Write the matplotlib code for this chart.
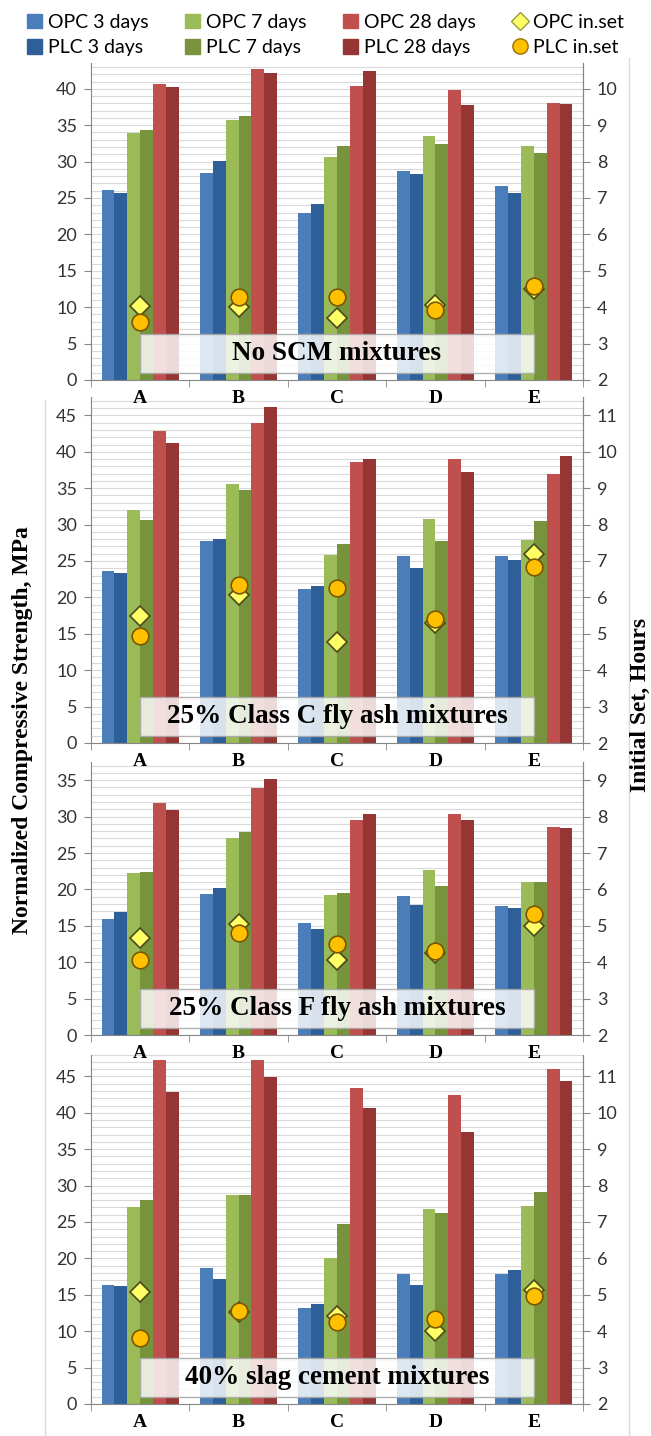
import numpy as np
import matplotlib
matplotlib.use("Agg")
import matplotlib.pyplot as plt
from matplotlib.patches import Rectangle, Patch
from matplotlib.lines import Line2D

W, H = 651, 1436
PX_PER_MPA = 7.28
BAR_W = 0.131

categories = ["A", "B", "C", "D", "E"]
series_names = ["OPC 3 days", "PLC 3 days", "OPC 7 days",
                "PLC 7 days", "OPC 28 days", "PLC 28 days"]
series_colors = ["#4a7ebb", "#2f5f98", "#9bbb59",
                 "#77933c", "#c0504d", "#963634"]

# compressive strength, MPa: one row per series, columns A..E
no_scm = [
    [26.1, 28.5, 22.9, 28.7, 26.7],
    [25.7, 30.1, 24.2, 28.3, 25.7],
    [33.9, 35.7, 30.7, 33.5, 32.1],
    [34.3, 36.2, 32.2, 32.4, 31.2],
    [40.7, 42.7, 40.4, 39.8, 38.0],
    [40.2, 42.2, 42.4, 37.8, 37.9],
]
no_scm_set_opc = [4.02, 4.00, 3.71, 4.06, 4.51]
no_scm_set_plc = [3.60, 4.29, 4.28, 3.92, 4.58]

class_c = [
    [23.6, 27.8, 21.2, 25.7, 25.7],
    [23.3, 28.0, 21.5, 24.0, 25.2],
    [32.0, 35.6, 25.8, 30.8, 27.9],
    [30.7, 34.7, 27.3, 27.8, 30.5],
    [42.9, 44.0, 38.6, 39.0, 37.0],
    [41.2, 46.2, 39.0, 37.2, 39.4],
]
class_c_set_opc = [5.50, 6.06, 4.77, 5.30, 7.19]
class_c_set_plc = [4.93, 6.34, 6.27, 5.41, 6.83]

class_f = [
    [15.9, 19.3, 15.4, 19.1, 17.7],
    [16.9, 20.2, 14.5, 17.8, 17.5],
    [22.3, 27.0, 19.2, 22.7, 21.0],
    [22.4, 27.9, 19.5, 20.4, 21.0],
    [31.9, 33.9, 29.5, 30.3, 28.6],
    [30.9, 35.2, 30.4, 29.6, 28.5],
]
class_f_set_opc = [4.67, 5.05, 4.06, 4.24, 5.00]
class_f_set_plc = [4.06, 4.81, 4.49, 4.31, 5.32]

slag = [
    [16.3, 18.7, 13.2, 17.9, 17.9],
    [16.2, 17.2, 13.8, 16.4, 18.4],
    [27.1, 28.7, 20.1, 26.8, 27.2],
    [28.0, 28.7, 24.7, 26.2, 29.1],
    [47.2, 47.2, 43.4, 42.4, 46.0],
    [42.8, 44.9, 40.6, 37.3, 44.4],
]
slag_set_opc = [5.09, 4.53, 4.43, 4.00, 5.12]
slag_set_plc = [3.82, 4.55, 4.24, 4.33, 4.98]

# (title, strengths, OPC set, PLC set, y max, pixel row of zero line)
panels = [
    ("No SCM mixtures", no_scm, no_scm_set_opc, no_scm_set_plc, 43.5, 380),
    ("25% Class C fly ash mixtures", class_c, class_c_set_opc, class_c_set_plc, 47.5, 743),
    ("25% Class F fly ash mixtures", class_f, class_f_set_opc, class_f_set_plc, 37.5, 1035),
    ("40% slag cement mixtures", slag, slag_set_opc, slag_set_plc, 48, 1404),
]

SANS = ["Lato", "DejaVu Sans"]
SERIF = ["Liberation Serif", "DejaVu Serif"]
AXIS_GRAY = "#868686"
TICK_TXT = "#333333"

fig = plt.figure(figsize=(W / 100, H / 100), dpi=100)
fig.patch.set_facecolor("white")


def draw_panel(title, data, set_opc, set_plc, ymax, zero_px):
    top_px = zero_px - ymax * PX_PER_MPA
    ax = fig.add_axes([91 / W, 1 - zero_px / H, 492 / W, (zero_px - top_px) / H])
    ax.set_facecolor("none")
    x = np.arange(len(categories))
    for i, (vals, col) in enumerate(zip(data, series_colors)):
        ax.bar(x + (i - 2.5) * BAR_W, vals, BAR_W, color=col, linewidth=0, zorder=2)

    ax.set_xlim(-0.5, 4.5)
    ax.set_ylim(0, ymax)
    ax.set_yticks(np.arange(0, ymax + 0.01, 5))
    ax.set_yticks(np.arange(0, ymax + 0.01, 1), minor=True)
    ax.grid(which="both", axis="y", color="#d9d9d9", lw=0.8)
    ax.set_axisbelow(True)
    ax.tick_params(axis="y", which="minor", length=0)
    ax.tick_params(axis="y", which="major", length=5, color=AXIS_GRAY,
                   labelsize=13, labelcolor=TICK_TXT, pad=5)
    for lab in ax.get_yticklabels():
        lab.set_family(SANS)

    ax.set_xticks(x)
    ax.set_xticklabels(categories, family=SERIF, weight="bold", fontsize=14)
    ax.set_xticks(np.arange(-0.5, 5, 1), minor=True)
    ax.tick_params(axis="x", which="major", length=0, pad=7)
    ax.tick_params(axis="x", which="minor", length=5, color=AXIS_GRAY)
    ax.spines["top"].set_visible(False)
    for s in ("left", "right", "bottom"):
        ax.spines[s].set_color(AXIS_GRAY)

    ax2 = ax.twinx()
    ax2.set_ylim(2, 2 + ymax / 5)
    ax2.set_yticks(np.arange(2, 2 + ymax / 5 + 0.01, 1))
    ax2.tick_params(axis="y", length=5, color=AXIS_GRAY, labelsize=13,
                    labelcolor=TICK_TXT, pad=5)
    for lab in ax2.get_yticklabels():
        lab.set_family(SANS)
    for s in ("top", "left", "bottom"):
        ax2.spines[s].set_visible(False)
    ax2.spines["right"].set_color(AXIS_GRAY)

    ax2.plot(x, set_opc, ls="none", marker="D", ms=10.5, mfc="#ffff66",
             mec="#4a4a1a", mew=1.2, zorder=4)
    ax2.plot(x, set_plc, ls="none", marker="o", ms=12, mfc="#ffc000",
             mec="#7a5800", mew=1.2, zorder=5)

    box = Rectangle((0, 1.0), 4, 5.3, transform=ax.transData, facecolor="white",
                    alpha=0.82, edgecolor="#a6a6a6", lw=1, zorder=6)
    ax2.add_patch(box)
    ax2.text(2, 3.65, title, transform=ax.transData, ha="center", va="center",
             family=SERIF, weight="bold", fontsize=19.5, zorder=7)


# bottom panel first so each panel's category labels sit on top of the next
for p in reversed(panels):
    draw_panel(*p)

# chart-area borders
fig.add_artist(Line2D([629 / W, 629 / W], [0, 1 - 58 / H], color="#d9d9d9",
                      lw=1, transform=fig.transFigure))
fig.add_artist(Line2D([45 / W, 45 / W], [0, 1 - 400 / H], color="#d9d9d9",
                      lw=1, transform=fig.transFigure))

fig.text(23 / W, 1 - 730 / H, "Normalized Compressive Strength, MPa", rotation=90,
         ha="center", va="center", family=SERIF, weight="bold", fontsize=17)
fig.text(640 / W, 1 - 705 / H, "Initial Set, Hours", rotation=90,
         ha="center", va="center", family=SERIF, weight="bold", fontsize=17)

handles = []
labels = []
for k in range(3):
    for j in (2 * k, 2 * k + 1):
        handles.append(Patch(color=series_colors[j]))
        labels.append(series_names[j])
handles.append(Line2D([], [], ls="none", marker="D", ms=9, mfc="#ffff66",
                      mec="#9a9a40", mew=1))
labels.append("OPC in.set")
handles.append(Line2D([], [], ls="none", marker="o", ms=11, mfc="#ffc000",
                      mec="#9a7000", mew=1))
labels.append("PLC in.set")

fig.legend(handles, labels, ncol=4, loc="upper center",
           bbox_to_anchor=(0.5, 1.0), frameon=False,
           prop={"family": SANS, "size": 14}, handlelength=0.75,
           handleheight=0.75, handletextpad=0.3, columnspacing=1.9,
           labelspacing=0.45, borderaxespad=0.3)

fig.savefig("out.png", dpi=100)
